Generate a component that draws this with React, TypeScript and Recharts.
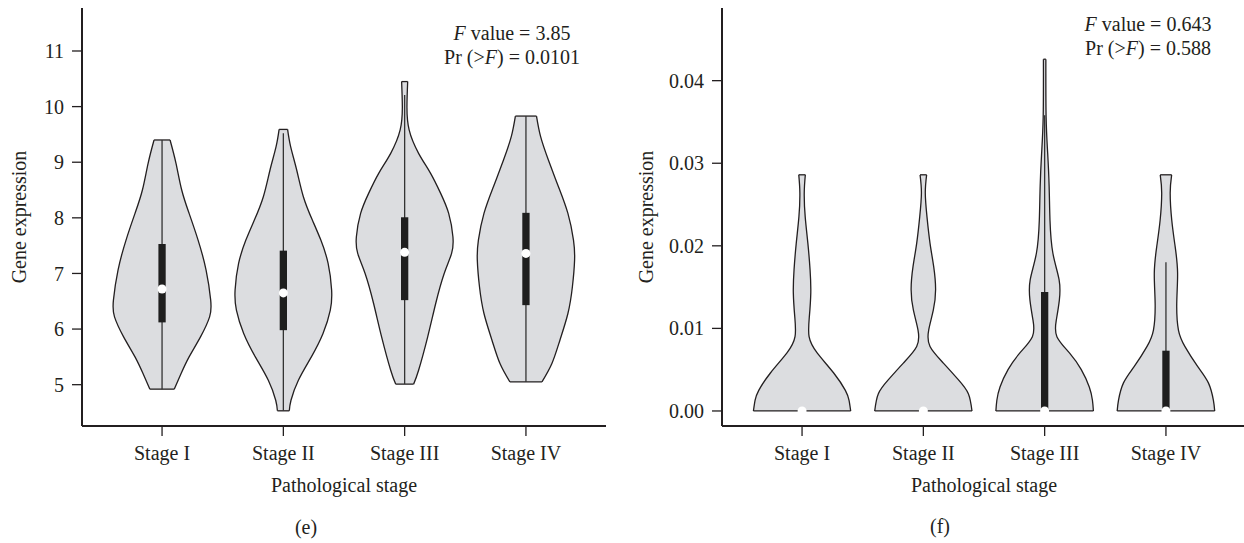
import React from "react";
import {
  Area,
  ComposedChart,
  ErrorBar,
  Label,
  Scatter,
  XAxis,
  YAxis
} from "recharts";

const stages = ["Stage I", "Stage II", "Stage III", "Stage IV"];
const stagePositions = [1, 2, 3, 4];

// panel (e): density outline, value level -> half width (category units)
const eLevels = [
  [4.92, 5.2, 5.5, 5.86, 6.22, 6.52, 7.06, 7.6, 8.08, 8.5, 8.98, 9.4],
  [4.53, 4.72, 5.08, 5.5, 5.92, 6.34, 6.7, 7.18, 7.6, 7.96, 8.38, 8.86, 9.28, 9.59],
  [5.01, 5.26, 5.86, 6.46, 7.0, 7.36, 7.66, 8.08, 8.44, 8.8, 9.16, 9.58, 10.0, 10.45],
  [5.05, 5.38, 5.8, 6.28, 6.76, 7.24, 7.6, 8.08, 8.56, 9.04, 9.46, 9.83]
];
const eHalfWidths = [
  [0.101, 0.157, 0.223, 0.317, 0.392, 0.401, 0.363, 0.297, 0.223, 0.162, 0.115, 0.066],
  [0.049, 0.063, 0.124, 0.231, 0.327, 0.387, 0.398, 0.369, 0.309, 0.239, 0.165, 0.11, 0.06, 0.035],
  [0.074, 0.115, 0.19, 0.256, 0.326, 0.387, 0.398, 0.363, 0.297, 0.214, 0.115, 0.037, 0.019, 0.025],
  [0.132, 0.214, 0.28, 0.346, 0.383, 0.401, 0.392, 0.346, 0.268, 0.185, 0.121, 0.087]
];
const eQ1 = [6.12, 5.98, 6.52, 6.43];
const eMedian = [6.72, 6.65, 7.38, 7.36];
const eQ3 = [7.53, 7.41, 8.01, 8.09];
const eLow = [4.92, 4.53, 5.01, 5.05];
const eHigh = [9.4, 9.52, 10.21, 9.83];
const eTicks = [5, 6, 7, 8, 9, 10, 11];
const eStats = { f: "3.85", p: "0.0101" };

// panel (f)
const fLevels = [
  [0, 0.0013, 0.0025, 0.0046, 0.007, 0.009, 0.0114, 0.0143, 0.0171, 0.0203, 0.0235, 0.0264, 0.0286],
  [0, 0.0021, 0.0038, 0.0058, 0.0078, 0.0098, 0.0122, 0.0147, 0.0175, 0.0203, 0.0235, 0.0264, 0.0286],
  [0, 0.0013, 0.0029, 0.005, 0.007, 0.009, 0.011, 0.0134, 0.0159, 0.0191, 0.0231, 0.0272, 0.0312, 0.0356, 0.0426],
  [0, 0.0013, 0.0034, 0.0054, 0.0078, 0.0098, 0.013, 0.0167, 0.0199, 0.0231, 0.0264, 0.0286]
];
const fHalfWidths = [
  [0.401, 0.387, 0.357, 0.261, 0.126, 0.058, 0.06, 0.072, 0.066, 0.048, 0.026, 0.018, 0.027],
  [0.401, 0.371, 0.288, 0.165, 0.055, 0.044, 0.082, 0.101, 0.085, 0.055, 0.03, 0.016, 0.027],
  [0.402, 0.394, 0.368, 0.302, 0.206, 0.101, 0.096, 0.121, 0.119, 0.068, 0.044, 0.037, 0.025, 0.012, 0.01],
  [0.402, 0.391, 0.35, 0.261, 0.157, 0.103, 0.089, 0.096, 0.076, 0.048, 0.035, 0.047]
];
const fQ1 = [0, 0, 0, 0];
const fMedian = [0, 0, 0, 0];
const fQ3 = [0, 0, 0.0144, 0.0073];
const fLow = [0, 0, 0, 0];
const fHigh = [0, 0, 0.0358, 0.018];
const fTicks = [0, 0.01, 0.02, 0.03, 0.04];
const fStats = { f: "0.643", p: "0.588" };

type PanelData = {
  levels: number[][];
  halfWidths: number[][];
  q1: number[];
  median: number[];
  q3: number[];
  low: number[];
  high: number[];
};

const ink = "#231f20";
const font = "'Liberation Serif', 'Times New Roman', serif";
const frame = { stroke: ink, strokeWidth: 2 };
const tickLine = { stroke: ink, strokeWidth: 1.3 };
const tickText = { fill: ink, fontSize: 20, fontFamily: font };

function violinRows(levels: number[], widths: number[], center: number) {
  return levels.map((v, i) => ({ v, range: [center - widths[i], center + widths[i]] }));
}

function endRows(p: PanelData) {
  return stagePositions.flatMap((c, i) => {
    const lv = p.levels[i];
    const w = p.halfWidths[i];
    return [
      { c, v: lv[0], w: w[0] },
      { c, v: lv[lv.length - 1], w: w[w.length - 1] }
    ];
  });
}

function statRows(p: PanelData) {
  return stagePositions.map((c, i) => ({
    c,
    v: p.median[i],
    box: [p.median[i] - p.q1[i], p.q3[i] - p.median[i]],
    whisker: [p.median[i] - p.low[i], p.high[i] - p.median[i]]
  }));
}

const noShape = () => <g />;
const medianDot = (props: any) => (
  <circle cx={props.cx} cy={props.cy} r={4.5} fill="#ffffff" />
);

function ViolinPanel({
  p,
  width,
  yWidth,
  yDomain,
  yTicks,
  yFormat,
  labelOffset
}: {
  p: PanelData;
  width: number;
  yWidth: number;
  yDomain: [number, number];
  yTicks: number[];
  yFormat: (v: number) => string;
  labelOffset: number;
}) {
  const xDomain: [number, number] = [0.34, 4.66];
  const stats = statRows(p);
  return (
    <ComposedChart
      layout="vertical"
      width={width}
      height={543}
      margin={{ top: 8, right: 14, bottom: 51, left: 0 }}
    >
      <XAxis
        type="number"
        domain={xDomain}
        allowDataOverflow
        ticks={stagePositions}
        interval={0}
        tickFormatter={(t) => stages[Number(t) - 1]}
        height={66}
        tickSize={10}
        tickMargin={10}
        axisLine={frame}
        tickLine={tickLine}
        tick={tickText}
      >
        <Label
          value="Pathological stage"
          position="insideBottom"
          offset={0}
          style={{ fill: ink, fontSize: 20, fontFamily: font }}
        />
      </XAxis>
      <XAxis
        xAxisId="top"
        orientation="top"
        type="number"
        domain={xDomain}
        height={0}
        tick={false}
        tickLine={false}
        axisLine={frame}
      />
      <YAxis
        type="number"
        dataKey="v"
        reversed
        domain={yDomain}
        allowDataOverflow
        ticks={yTicks}
        interval={0}
        tickFormatter={yFormat}
        width={yWidth}
        tickSize={10}
        tickMargin={8}
        axisLine={frame}
        tickLine={tickLine}
        tick={tickText}
      >
        <Label
          value="Gene expression"
          angle={-90}
          position="insideLeft"
          offset={labelOffset}
          style={{ fill: ink, fontSize: 20, fontFamily: font, textAnchor: "middle" }}
        />
      </YAxis>
      <YAxis
        yAxisId="right"
        orientation="right"
        type="number"
        domain={yDomain}
        width={0}
        tick={false}
        tickLine={false}
        axisLine={frame}
      />
      {stagePositions.map((c, i) => (
        <Area
          key={stages[i]}
          data={violinRows(p.levels[i], p.halfWidths[i], c)}
          dataKey="range"
          type="natural"
          fill="#dcdde0"
          fillOpacity={1}
          stroke={ink}
          strokeWidth={1.3}
          dot={false}
          activeDot={false}
          isAnimationActive={false}
        />
      ))}
      <Scatter data={endRows(p)} dataKey="c" shape={noShape} isAnimationActive={false}>
        <ErrorBar dataKey="w" direction="x" width={0} stroke={ink} strokeWidth={1.3} />
      </Scatter>
      <Scatter data={stats} dataKey="c" shape={noShape} isAnimationActive={false}>
        <ErrorBar dataKey="whisker" direction="y" width={0} stroke="#333" strokeWidth={1.3} />
      </Scatter>
      <Scatter data={stats} dataKey="c" shape={noShape} isAnimationActive={false}>
        <ErrorBar dataKey="box" direction="y" width={0} stroke="#1e1e1e" strokeWidth={7.3} />
      </Scatter>
      <Scatter data={stats} dataKey="c" shape={medianDot} isAnimationActive={false} />
    </ComposedChart>
  );
}

const panelE: PanelData = {
  levels: eLevels,
  halfWidths: eHalfWidths,
  q1: eQ1,
  median: eMedian,
  q3: eQ3,
  low: eLow,
  high: eHigh
};

const panelF: PanelData = {
  levels: fLevels,
  halfWidths: fHalfWidths,
  q1: fQ1,
  median: fMedian,
  q3: fQ3,
  low: fLow,
  high: fHigh
};

function StatText({ x, y, f, p }: { x: number; y: number; f: string; p: string }) {
  return (
    <>
      <text x={x} y={y}>
        <tspan fontStyle="italic">F</tspan> value = {f}
      </text>
      <text x={x} y={y + 24}>
        Pr (&gt;<tspan fontStyle="italic">F</tspan>) = {p}
      </text>
    </>
  );
}

export default function App() {
  return (
    <div
      style={{
        position: "fixed",
        left: 0,
        top: 0,
        width: 1244,
        height: 543,
        overflow: "hidden",
        background: "#ffffff"
      }}
    >
      <div style={{ position: "absolute", left: 0, top: 0 }}>
        <ViolinPanel
          p={panelE}
          width={620}
          yWidth={82}
          yDomain={[4.257, 11.773]}
          yTicks={eTicks}
          yFormat={(v) => String(v)}
          labelOffset={19}
        />
      </div>
      <div style={{ position: "absolute", left: 620, top: 0 }}>
        <ViolinPanel
          p={panelF}
          width={640}
          yWidth={102}
          yDomain={[-0.00182, 0.0488]}
          yTicks={fTicks}
          yFormat={(v) => v.toFixed(2)}
          labelOffset={26}
        />
      </div>
      <svg
        width={1244}
        height={543}
        style={{ position: "absolute", left: 0, top: 0, pointerEvents: "none" }}
      >
        <g fontFamily={font} fontSize={20} fill={ink} textAnchor="middle">
          <StatText x={512} y={40} f={eStats.f} p={eStats.p} />
          <StatText x={1148} y={31} f={fStats.f} p={fStats.p} />
          <text x={306} y={534}>
            (e)
          </text>
          <text x={940} y={533}>
            (f)
          </text>
        </g>
      </svg>
    </div>
  );
}
